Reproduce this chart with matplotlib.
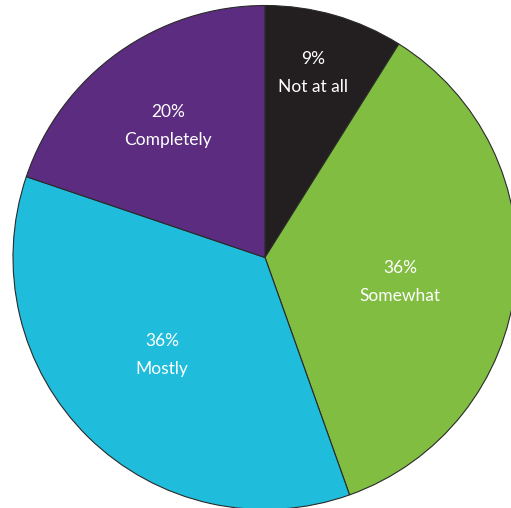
import matplotlib
matplotlib.use("Agg")
import matplotlib.pyplot as plt

categories = ["Not at all", "Somewhat", "Mostly", "Completely"]
shares = [9, 36, 36, 20]
pct_labels = ["9%", "36%", "36%", "20%"]
colors = ["#231f20", "#80bd41", "#1fbcdb", "#5b2c7f"]
# centre of each two-line label block, in pie units (radius = 1)
label_xy = [(0.190, 0.732), (0.536, -0.097), (-0.409, -0.387), (-0.385, 0.522)]

fig = plt.figure(figsize=(5.11, 5.08), dpi=100)
ax = fig.add_axes([0, 0, 1, 1])

wedges, _ = ax.pie(
    shares,
    colors=colors,
    startangle=90,
    counterclock=False,
    radius=1.0,
    wedgeprops=dict(edgecolor="#2a2a2a", linewidth=0.8),
)

for pct, name, (x, y) in zip(pct_labels, categories, label_xy):
    ax.text(x, y + 0.056, pct, ha="center", va="center", color="white",
            fontsize=12.5, family="Lato")
    ax.text(x, y - 0.056, name, ha="center", va="center", color="white",
            fontsize=12.5, family="Lato")

ax.set_aspect("auto")
ax.set_xlim(-265 / 252, (511 - 265) / 252)
ax.set_ylim(-(508 - 257.5) / 252, 257.5 / 252)
ax.axis("off")

fig.savefig("out.png", dpi=100, facecolor="white")
